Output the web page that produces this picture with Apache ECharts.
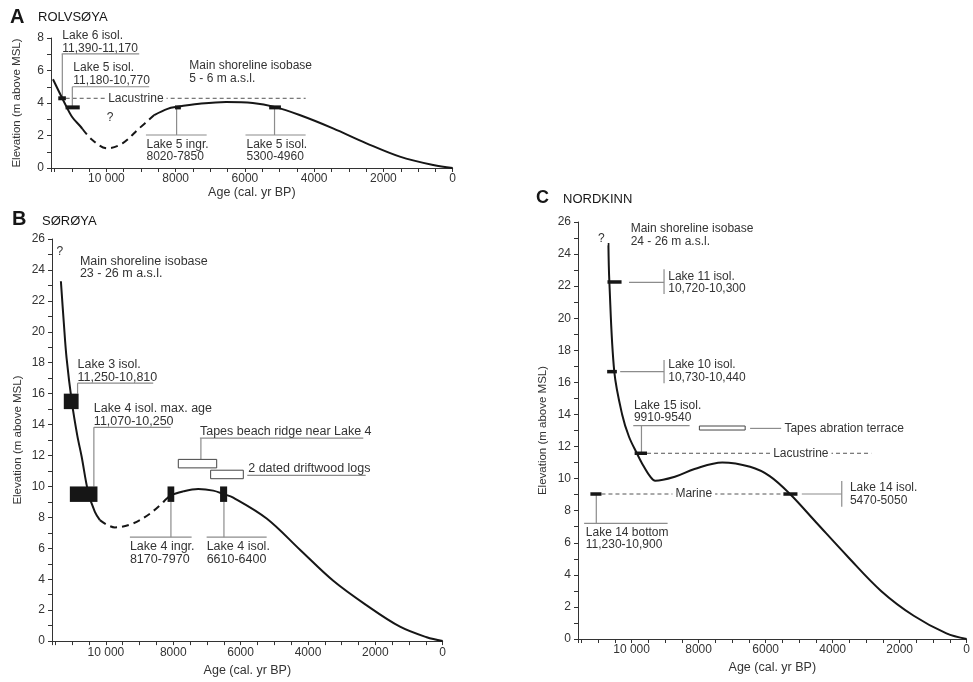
<!DOCTYPE html>
<html>
<head>
<meta charset="utf-8">
<title>Relative sea-level curves</title>
<script src="https://cdn.jsdelivr.net/npm/echarts@6/dist/echarts.min.js"></script>
<style>
  html, body { margin: 0; padding: 0; background: #fff; }
  #chart { width: 973px; height: 682px; }
</style>
</head>
<body>
<div id="chart"></div>
<script>
// ---- axis labels
const ageLabelValues = [10000, 8000, 6000, 4000, 2000, 0];
const ageLabelText = ['10 000', '8000', '6000', '4000', '2000', '0'];

// ---- A  ROLVSOYA  ([age, elevation])
const curveA1 = [[11543, 5.46], [11225, 4.08], [10984, 3.12], [10741, 2.54], [10690, 2.4]];
const curveA2 = [[10690, 2.4], [10405, 1.72], [9971, 1.21], [9536, 1.52], [9053, 2.44], [8619, 3.26]];
const curveA3 = [[8619, 3.26], [8234, 3.64], [7973, 3.76], [7316, 3.95], [6543, 4.06], [5773, 4.0],
  [5145, 3.76], [4421, 3.26], [3457, 2.44], [2490, 1.52], [1526, 0.7], [562, 0.18], [0, 0]];
const barsA = [[11390, 11170, 4.29], [11180, 10770, 3.73], [8020, 7850, 3.73], [5300, 4960, 3.73]];
const levelsA = [[11176, 4246, 4.29]];
const calloutsA = [
  [11291, 7.02, 9053, 7.02], [11273, 7.02, 11273, 4.29],
  [10984, 5.0, 8764, 5.0], [10984, 5.0, 10984, 3.73],
  [7973, 3.73, 7973, 2.03], [8859, 2.03, 7105, 2.03],
  [5145, 3.73, 5145, 2.03], [5984, 2.03, 4247, 2.03]
];
const notesA = [
  [11273, 7.74, 'Lake 6 isol.\n11,390-11,170'],
  [10955, 5.76, 'Lake 5 isol.\n11,180-10,770'],
  [7606, 5.9, 'Main shoreline isobase\n5 - 6 m a.s.l.'],
  [8842, 1.06, 'Lake 5 ingr.\n8020-7850'],
  [5955, 1.06, 'Lake 5 isol.\n5300-4960']
];
const marksA = [[9149, 4.29, 'Lacustrine'], [9893, 3.12, '?']];

// ---- B  SORØYA
const curveB1 = [[11336, 23.27], [11250, 20.6], [11167, 18.3], [11010, 15.45], [10850, 13.3],
  [10722, 11.95], [10525, 9.62], [10327, 8.35], [10178, 7.82]];
const curveB2 = [[10178, 7.82], [9733, 7.35], [9189, 7.61], [8693, 8.24], [8298, 8.98]];
const curveB3 = [[8298, 8.98], [8069, 9.42], [7704, 9.68], [7259, 9.83], [6813, 9.73], [6495, 9.5],
  [6219, 9.28], [5227, 7.93], [4238, 5.91], [3249, 3.9], [2257, 2.31], [1268, 0.93], [475, 0.25], [0, 0]];
const blocksB = [[11250, 10810, 15, 16], [11070, 10250, 9, 10], [8170, 7970, 9, 10], [6610, 6400, 9, 10]];
const boxesB = [[7850, 6710, 11.2, 11.75], [6890, 5920, 10.5, 11.05]];
const calloutsB = [
  [10841, 16, 10841, 16.68], [10841, 16.68, 8595, 16.68],
  [10357, 10, 10357, 13.82], [10357, 13.82, 8078, 13.82],
  [7179, 11.75, 7179, 13.12], [7208, 13.12, 2358, 13.12],
  [5803, 10.72, 2287, 10.72],
  [8069, 9, 8069, 6.72], [9287, 6.72, 7455, 6.72],
  [6495, 9, 6495, 6.72], [7009, 6.72, 5227, 6.72]
];
const notesB = [
  [10772, 24.16, 'Main shoreline isobase\n23 - 26 m a.s.l.'],
  [10841, 17.46, 'Lake 3 isol.\n11,250-10,810'],
  [10357, 14.61, 'Lake 4 isol. max. age\n11,070-10,250'],
  [7208, 13.54, 'Tapes beach ridge near Lake 4'],
  [5774, 11.15, '2 dated driftwood logs'],
  [9287, 5.7, 'Lake 4 ingr.\n8170-7970'],
  [7009, 5.7, 'Lake 4 isol.\n6610-6400']
];
const marksB = [[11366, 25.2, '?']];

// ---- C  NORDKINN
const curveC = [[10693, 24.69], [10664, 22.26], [10517, 16.67], [10283, 14.0], [10078, 12.61],
  [9843, 11.58], [9688, 10.95], [9442, 10.12], [9296, 9.87], [8709, 10.12], [8123, 10.6],
  [7294, 11.01], [6464, 10.74], [5878, 10.16], [5272, 9.04], [4510, 7.31], [3534, 5.1],
  [2555, 3.0], [1580, 1.45], [604, 0.35], [0, 0]];
const barsC = [[10720, 10300, 22.26], [10730, 10440, 16.67], [9910, 9540, 11.58],
  [11230, 10900, 9.04], [5470, 5050, 9.04]];
const levelsC = [[9540, 2848, 11.58], [10900, 5470, 9.04]];
const boxesC = [[7977, 6611, 13.03, 13.28]];
const calloutsC = [
  [10078, 22.24, 9032, 22.24], [9032, 23.05, 9032, 21.51],
  [10341, 16.67, 9032, 16.67], [9032, 17.39, 9032, 15.94],
  [9951, 13.3, 8270, 13.3], [9706, 13.3, 9706, 11.58],
  [6464, 13.13, 5536, 13.13],
  [11054, 9.04, 11054, 7.21], [11417, 7.21, 8926, 7.21],
  [4920, 9.04, 3728, 9.04], [3728, 9.85, 3728, 8.25]
];
const notesC = [
  [10028, 25.19, 'Main shoreline isobase\n24 - 26 m a.s.l.'],
  [8906, 22.22, 'Lake 11 isol.\n10,720-10,300'],
  [8906, 16.71, 'Lake 10 isol.\n10,730-10,440'],
  [9931, 14.17, 'Lake 15 isol.\n9910-9540'],
  [5439, 13.13, 'Tapes abration terrace'],
  [11367, 6.27, 'Lake 14 bottom\n11,230-10,900'],
  [3484, 9.02, 'Lake 14 isol.\n5470-5050']
];
const marksC = [[10907, 24.98, '?'], [4949, 11.58, 'Lacustrine'], [8144, 9.04, 'Marine']];

// ---- helpers
const FONT = '"Liberation Sans", Arial, sans-serif';
const INK = '#161616';
const TXT = '#333';
const GREY = '#8c8c8c';
const AXIS = '#333';

function curve(g, data, dashed) {
  return {
    type: 'line', xAxisIndex: g, yAxisIndex: g, data: data, smooth: 0.35,
    symbol: 'none', silent: true, z: 3,
    lineStyle: { color: INK, width: 2, type: dashed ? [7, 5] : 'solid' }
  };
}
function segments(g, segs, style, z) {
  return {
    type: 'custom', xAxisIndex: g, yAxisIndex: g, clip: false, silent: true, z: z, data: segs,
    renderItem: function (params, api) {
      var a = api.coord([api.value(0), api.value(1)]);
      var b = api.coord([api.value(2), api.value(3)]);
      return { type: 'line', shape: { x1: a[0], y1: a[1], x2: b[0], y2: b[1] }, style: Object.assign({}, style) };
    }
  };
}
function bars(g, list, width) {
  return segments(g, list.map(b => [b[0], b[2], b[1], b[2]]), { stroke: INK, lineWidth: width, lineCap: 'butt' }, 5);
}
function levels(g, list) {
  return segments(g, list.map(b => [b[0], b[2], b[1], b[2]]), { stroke: '#555', lineWidth: 1, lineDash: [4, 3] }, 2);
}
function callouts(g, list) {
  return segments(g, list, { stroke: GREY, lineWidth: 1.2 }, 2);
}
function boxes(g, list, filled) {
  return {
    type: 'custom', xAxisIndex: g, yAxisIndex: g, clip: false, silent: true, z: 6, data: list,
    renderItem: function (params, api) {
      var a = api.coord([api.value(0), api.value(3)]);
      var b = api.coord([api.value(1), api.value(2)]);
      return {
        type: 'rect',
        shape: { x: Math.min(a[0], b[0]), y: Math.min(a[1], b[1]), width: Math.abs(b[0] - a[0]), height: Math.abs(b[1] - a[1]) },
        style: filled ? { fill: INK } : { fill: '#fff', stroke: '#444', lineWidth: 1 }
      };
    }
  };
}
function texts(g, list, centred, size, lh) {
  return {
    type: 'custom', xAxisIndex: g, yAxisIndex: g, clip: false, silent: true, z: 8,
    data: list.map(t => [t[0], t[1]]),
    renderItem: function (params, api) {
      var p = api.coord([api.value(0), api.value(1)]);
      var st = {
        text: list[params.dataIndex][2], fill: TXT, font: size + 'px ' + FONT, lineHeight: lh,
        align: centred ? 'center' : 'left', verticalAlign: 'middle',
        textAlign: centred ? 'center' : 'left', textVerticalAlign: 'middle'
      };
      if (centred) { st.backgroundColor = '#fff'; st.padding = [0, 3]; }
      return { type: 'text', x: p[0], y: p[1], style: st };
    }
  };
}

function xAxis(g, gap, margin) {
  return {
    type: 'value', gridIndex: g, inverse: true, min: 0, max: 11600, interval: 500,
    name: 'Age (cal. yr BP)', nameLocation: 'middle', nameGap: gap,
    nameTextStyle: { color: TXT, fontSize: 12.5, fontFamily: FONT },
    axisLine: { show: true, onZero: false, lineStyle: { color: AXIS, width: 1 } },
    axisTick: { show: true, inside: false, length: 4, lineStyle: { color: AXIS, width: 1 } },
    axisLabel: {
      margin: margin, color: TXT, fontSize: 12, fontFamily: FONT,
      formatter: function (v) { var i = ageLabelValues.indexOf(v); return i < 0 ? '' : ageLabelText[i]; }
    },
    splitLine: { show: false }
  };
}
function yAxis(g, max, gap) {
  return {
    type: 'value', gridIndex: g, position: 'left', min: 0, max: max, interval: 1,
    name: 'Elevation (m above MSL)', nameLocation: 'middle', nameGap: gap,
    nameTextStyle: { color: TXT, fontSize: 11.5, fontFamily: FONT },
    axisLine: { show: true, onZero: false, lineStyle: { color: AXIS, width: 1 } },
    axisTick: { show: true, inside: false, length: 4, lineStyle: { color: AXIS, width: 1 } },
    axisLabel: {
      margin: 7, color: TXT, fontSize: 12, fontFamily: FONT,
      formatter: function (v) { return v % 2 === 0 ? String(v) : ''; }
    },
    splitLine: { show: false }
  };
}
function heading(text, left, top, size, bold) {
  return { type: 'text', left: left, top: top, silent: true,
    style: { text: text, fill: INK, font: (bold ? 'bold ' : '') + size + 'px ' + FONT } };
}

var myChart = echarts.init(document.getElementById('chart'));
var option = {
  backgroundColor: '#fff',
  animation: false,
  graphic: [
    heading('A', 10, 7, 20, true), heading('ROLVSØYA', 38, 11, 13, false),
    heading('B', 12, 209, 20, true), heading('SØRØYA', 42, 215, 13, false),
    heading('C', 536, 189, 18, true), heading('NORDKINN', 563, 193, 13, false)
  ],
  grid: [
    { left: 51, top: 38, width: 401.7, height: 130 },
    { left: 52, top: 239, width: 390.7, height: 409 },
    { left: 578, top: 222, width: 395.9, height: 417 }
  ],
  xAxis: [xAxis(0, 17, 5), xAxis(1, 20, 6), xAxis(2, 21, 5)],
  yAxis: [yAxis(0, 8, 28), yAxis(1, 26, 28), yAxis(2, 26, 29)],
  series: [
    // A
    curve(0, curveA1, false), curve(0, curveA2, true), curve(0, curveA3, false),
    levels(0, levelsA), callouts(0, calloutsA), bars(0, barsA, 4),
    texts(0, notesA, false, 12, 12.5), texts(0, marksA, true, 12, 14),
    // B
    curve(1, curveB1, false), curve(1, curveB2, true), curve(1, curveB3, false),
    callouts(1, calloutsB), boxes(1, blocksB, true), boxes(1, boxesB, false),
    texts(1, notesB, false, 12.5, 12.8), texts(1, marksB, true, 12, 14),
    // C
    curve(2, curveC, false),
    levels(2, levelsC), callouts(2, calloutsC), boxes(2, boxesC, false), bars(2, barsC, 3.5),
    texts(2, notesC, false, 12, 12.5), texts(2, marksC, true, 12, 14)
  ]
};
myChart.setOption(option);
</script>
</body>
</html>
